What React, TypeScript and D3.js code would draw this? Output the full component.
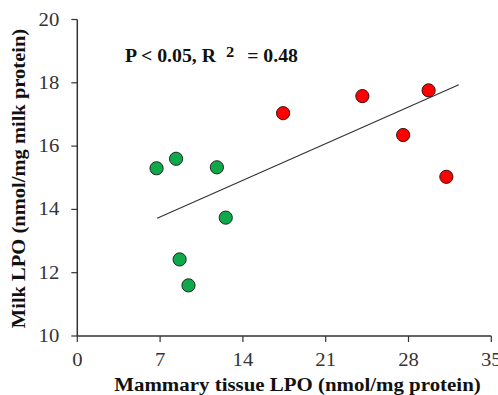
import React from 'react';
import * as d3 from 'd3';

// Mammary tissue LPO (x) vs milk LPO (y)
const greenX = [6.7, 8.35, 11.8, 8.65, 9.4, 12.55];
const greenY = [15.3, 15.6, 15.33, 12.42, 11.6, 13.74];
const redX = [17.4, 24.1, 29.7, 27.55, 31.2];
const redY = [17.04, 17.58, 17.76, 16.35, 15.03];

// fitted trend line endpoints
const trendX = [6.75, 32.25];
const trendY = [13.72, 17.94];

const xTicks = [0, 7, 14, 21, 28, 35];
const yTicks = [10, 12, 14, 16, 18, 20];

const W = 498;
const H = 395;
const margin = { top: 19.5, right: 6.7, bottom: 59, left: 77.3 };
const font = "'Liberation Serif'";
const axisColor = '#333';

// text with a slight horizontal stretch, like the source image
const Txt = ({ x, y, sx = 1.15, rotate = 0, anchor = 'start', size, bold = false, fill = '#111', children }: any) => (
  <g transform={`translate(${x},${y}) rotate(${rotate}) scale(${sx},1)`}>
    <text textAnchor={anchor} fontSize={size} fontWeight={bold ? 'bold' : 'normal'} fill={fill}
      style={{ fontFamily: font }}>{children}</text>
  </g>
);

const App = () => {
  const x = d3.scaleLinear().domain([0, 35]).range([margin.left, W - margin.right]);
  const y = d3.scaleLinear().domain([10, 20]).range([H - margin.bottom, margin.top]);

  const green = greenX.map((v, i) => ({ x: v, y: greenY[i] }));
  const red = redX.map((v, i) => ({ x: v, y: redY[i] }));
  const trend = trendX.map((v, i) => [v, trendY[i]] as [number, number]);

  const line = d3.line<[number, number]>()
    .x(d => x(d[0]))
    .y(d => y(d[1]));

  const x0 = x(0);
  const y0 = y(10);

  return (
    <svg width={W} height={H} style={{ position: 'absolute', left: 0, top: 0, background: '#fff' }}>
      {/* axes */}
      <line x1={x0} x2={x(35)} y1={y0} y2={y0} stroke={axisColor} strokeWidth={1.5} />
      <line x1={x0} x2={x0} y1={y0} y2={y(20)} stroke={axisColor} strokeWidth={1.5} />
      {xTicks.map(t => (
        <g key={'x' + t}>
          <line x1={x(t)} x2={x(t)} y1={y0} y2={y0 + 6} stroke={axisColor} strokeWidth={1.2} />
          <Txt x={x(t)} y={y0 + 30} anchor="middle" size={18} fill="#333">{t}</Txt>
        </g>
      ))}
      {yTicks.map(t => (
        <g key={'y' + t}>
          <line x1={x0 - 6} x2={x0} y1={y(t)} y2={y(t)} stroke={axisColor} strokeWidth={1.2} />
          <Txt x={x0 - 18} y={y(t) + 6} anchor="end" size={18} fill="#333">{t}</Txt>
        </g>
      ))}

      {/* trend line */}
      <path d={line(trend) || ''} fill="none" stroke="#333" strokeWidth={1.2} />

      {/* points */}
      {green.map((d, i) => (
        <circle key={'g' + i} cx={x(d.x)} cy={y(d.y)} r={6.6} fill="#0fa84b" stroke="#1e2a1e" strokeWidth={1} />
      ))}
      {red.map((d, i) => (
        <circle key={'r' + i} cx={x(d.x)} cy={y(d.y)} r={6.6} fill="#ff0000" stroke="#3a1010" strokeWidth={1} />
      ))}

      {/* annotation */}
      <Txt x={125} y={62} size={18} sx={1.1} bold>P &lt; 0.05, R</Txt>
      <Txt x={226} y={57} size={15} sx={1.1} bold>2</Txt>
      <Txt x={298} y={62} size={18} sx={1.1} bold anchor="end">= 0.48</Txt>

      {/* axis titles */}
      <Txt x={297.5} y={391} sx={1.1} anchor="middle" size={19} bold>Mammary tissue LPO (nmol/mg protein)</Txt>
      <Txt x={25} y={178.5} sx={1.14} rotate={-90} anchor="middle" size={18} bold>Milk LPO (nmol/mg milk protein)</Txt>
    </svg>
  );
};

export default App;
